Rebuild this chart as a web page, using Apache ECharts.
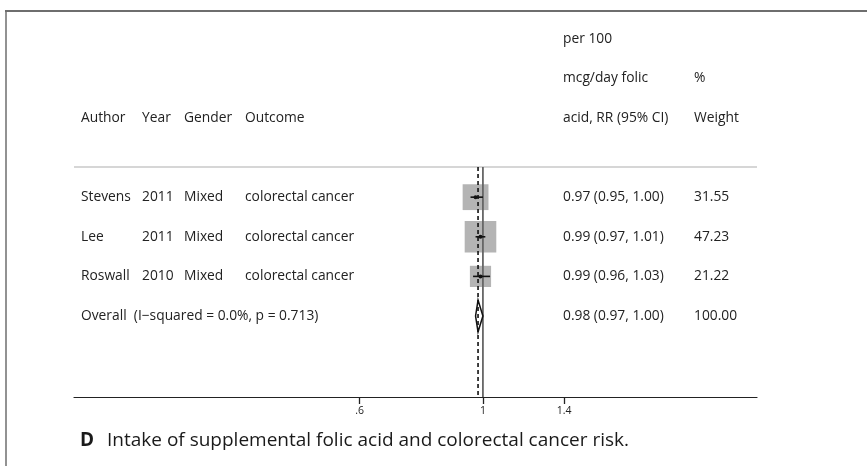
<!DOCTYPE html>
<html>
<head>
<meta charset="utf-8">
<script src="https://cdn.jsdelivr.net/npm/echarts@6/dist/echarts.min.js"></script>
<style>
html, body { margin: 0; padding: 0; background: #fff; }
#forest { width: 867px; height: 466px; }
</style>
</head>
<body>
<div id="forest"></div>
<script>
// study rows
var authors = ['Stevens', 'Lee', 'Roswall'];
var years = ['2011', '2011', '2010'];
var genders = ['Mixed', 'Mixed', 'Mixed'];
var outcomes = ['colorectal cancer', 'colorectal cancer', 'colorectal cancer'];
var rr = [0.97, 0.99, 0.99];
var ciLow = [0.95, 0.97, 0.96];
var ciHigh = [1.00, 1.01, 1.03];
var weights = [31.55, 47.23, 21.22];

// pooled estimate
var overallLabel = 'Overall  (I\u2212squared = 0.0%, p = 0.713)';
var overallRR = 0.98;
var overallLow = 0.97;
var overallHigh = 1.00;
var overallWeight = 100.00;

// axis
var tickValues = [0.6, 1, 1.4];
var tickLabels = ['.6', '1', '1.4'];
var axisRange = [0.184, 3.11];

// headers
var headLeft = ['Author', 'Year', 'Gender', 'Outcome'];
var headRR = ['per 100', 'mcg/day folic', 'acid, RR (95% CI)'];
var headWeight = ['', '%', 'Weight'];

var FONT = '"Open Sans", "DejaVu Sans", sans-serif';
var ln = Math.log;
var sepRow = 1.24;
var rowMin = -2.7, rowMax = 7.045;

var chart = echarts.init(document.getElementById('forest'));

var studyRows = authors.map(function (a, i) { return i + 2; });
var overallRow = authors.length + 2;

var option = {
    animation: false,
    grid: { left: 74, right: 110, top: 11, bottom: 69 },
    xAxis: {
        type: 'value',
        min: ln(axisRange[0]),
        max: ln(axisRange[1]),
        axisLine: { onZero: false, lineStyle: { color: '#222', width: 1.2 } },
        axisTick: {
            show: true,
            inside: false,
            length: 7,
            lineStyle: { color: '#222', width: 1.3 },
            customValues: tickValues.map(ln)
        },
        axisLabel: {
            customValues: tickValues.map(ln),
            color: '#222',
            fontSize: 10.5,
            fontFamily: FONT,
            margin: 9,
            formatter: function (v) {
                var best = 0;
                tickValues.forEach(function (t, i) {
                    if (Math.abs(ln(t) - v) < Math.abs(ln(tickValues[best]) - v)) best = i;
                });
                return tickLabels[best];
            }
        },
        splitLine: { show: false }
    },
    yAxis: {
        type: 'value',
        inverse: true,
        min: rowMin,
        max: rowMax,
        show: false
    },
    series: [
        {
            // separator under the headers
            type: 'custom',
            z: 1,
            silent: true,
            data: [[sepRow]],
            renderItem: function (params, api) {
                var a = api.coord([ln(axisRange[0]), api.value(0)]);
                var b = api.coord([ln(axisRange[1]), api.value(0)]);
                return { type: 'line', shape: { x1: a[0], y1: a[1], x2: b[0], y2: b[1] },
                    style: { stroke: '#c8c8c8', lineWidth: 1.5 } };
            }
        },
        {
            // weight boxes
            type: 'scatter',
            z: 2,
            symbol: 'rect',
            data: rr.map(function (v, i) { return [ln(v), studyRows[i], weights[i]]; }),
            symbolSize: function (d) { return Math.sqrt(d[2]) * 4.6; },
            itemStyle: { color: '#b4b4b4', opacity: 1 }
        },
        {
            // null line at 1
            type: 'custom',
            z: 3,
            data: [[0]],
            renderItem: function (params, api) {
                var a = api.coord([api.value(0), sepRow]);
                var b = api.coord([api.value(0), rowMax]);
                return { type: 'line', shape: { x1: a[0], y1: a[1], x2: b[0], y2: b[1] },
                    style: { stroke: '#666', lineWidth: 1.8 } };
            }
        },
        {
            // confidence intervals
            type: 'custom',
            z: 4,
            data: rr.map(function (v, i) { return [ln(ciLow[i]), ln(ciHigh[i]), studyRows[i]]; }),
            renderItem: function (params, api) {
                var a = api.coord([api.value(0), api.value(2)]);
                var b = api.coord([api.value(1), api.value(2)]);
                return { type: 'line', shape: { x1: a[0], y1: a[1], x2: b[0], y2: b[1] },
                    style: { stroke: '#111', lineWidth: 1.6 } };
            }
        },
        {
            // point estimates
            type: 'scatter',
            z: 5,
            symbol: 'circle',
            symbolSize: 4,
            data: rr.map(function (v, i) { return [ln(v), studyRows[i]]; }),
            itemStyle: { color: '#111', opacity: 1 }
        },
        {
            // overall diamond
            type: 'custom',
            z: 6,
            data: [[ln(overallLow), ln(overallRR), ln(overallHigh), overallRow]],
            renderItem: function (params, api) {
                var r = api.value(3);
                var p1 = api.coord([api.value(0), r]);
                var p2 = api.coord([api.value(1), r - 0.4]);
                var p3 = api.coord([api.value(2), r]);
                var p4 = api.coord([api.value(1), r + 0.4]);
                return { type: 'polygon', shape: { points: [p1, p2, p3, p4] },
                    style: { fill: '#fff', stroke: '#111', lineWidth: 1.5 } };
            }
        },
        {
            // dashed line at overall estimate
            type: 'custom',
            z: 7,
            data: [[ln(overallRR)]],
            renderItem: function (params, api) {
                var a = api.coord([api.value(0), sepRow]);
                var b = api.coord([api.value(0), rowMax]);
                return { type: 'line', shape: { x1: a[0], y1: a[1], x2: b[0], y2: b[1] },
                    style: { stroke: '#111', lineWidth: 1.6, lineDash: [4, 3] } };
            }
        }
    ]
};

chart.setOption(option);

// text columns, placed on the rows of the y scale
var colX = [81, 142, 184, 245];
var rrX = 563, wX = 694;
var textStyle = { fontFamily: FONT, fontSize: 13.8, fill: '#222' };
function rowY(r) { return chart.convertToPixel({ yAxisIndex: 0 }, r); }
function txt(x, y, s, extra) {
    var st = { text: s, fontFamily: textStyle.fontFamily, fontSize: textStyle.fontSize,
        fill: textStyle.fill, verticalAlign: 'middle', textAlign: 'left' };
    if (extra) for (var k in extra) st[k] = extra[k];
    return { type: 'text', x: x, y: y, style: st, silent: true };
}
var g = [];
g.push({ type: 'line', shape: { x1: 5, y1: 11, x2: 867, y2: 11 }, style: { stroke: '#6e6e6e', lineWidth: 2 } });
g.push({ type: 'line', shape: { x1: 6, y1: 11, x2: 6, y2: 466 }, style: { stroke: '#6e6e6e', lineWidth: 1.5 } });
headLeft.forEach(function (h, i) { g.push(txt(colX[i], rowY(0), h)); });
headRR.forEach(function (h, i) { g.push(txt(rrX, rowY(i - 2), h)); });
headWeight.forEach(function (h, i) { if (h) g.push(txt(wX, rowY(i - 2), h)); });
authors.forEach(function (a, i) {
    var y = rowY(studyRows[i]);
    g.push(txt(colX[0], y, a));
    g.push(txt(colX[1], y, years[i]));
    g.push(txt(colX[2], y, genders[i]));
    g.push(txt(colX[3], y, outcomes[i]));
    g.push(txt(rrX, y, rr[i].toFixed(2) + ' (' + ciLow[i].toFixed(2) + ', ' + ciHigh[i].toFixed(2) + ')'));
    g.push(txt(wX, y, weights[i].toFixed(2)));
});
var oy = rowY(overallRow);
g.push(txt(colX[0], oy, overallLabel));
g.push(txt(rrX, oy, overallRR.toFixed(2) + ' (' + overallLow.toFixed(2) + ', ' + overallHigh.toFixed(2) + ')'));
g.push(txt(wX, oy, overallWeight.toFixed(2)));
g.push(txt(80, 441, 'D', { fontSize: 19, fontWeight: 'bold', fill: '#1a1a1a' }));
g.push(txt(107, 441, 'Intake of supplemental folic acid and colorectal cancer risk.', { fontSize: 19, fill: '#1a1a1a' }));

chart.setOption({ graphic: g });
window.onresize = chart.resize;
</script>
</body>
</html>
